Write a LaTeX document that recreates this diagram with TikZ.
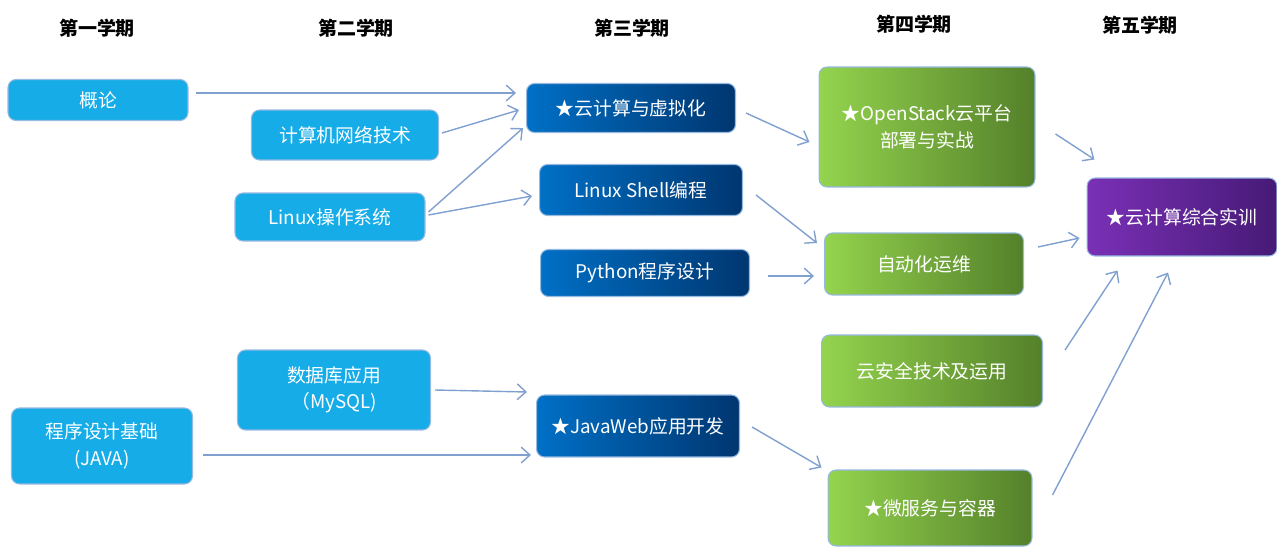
\documentclass[tikz,border=0pt]{standalone}
\usepackage{fontspec}
\setmainfont{Noto Sans CJK SC}
\usetikzlibrary{arrows.meta,calc}
\definecolor{skyblue}{RGB}{22, 172, 232}
\definecolor{navyl}{RGB}{0, 112, 198}
\definecolor{navyr}{RGB}{0, 54, 112}
\definecolor{leafl}{RGB}{148, 212, 78}
\definecolor{leafr}{RGB}{84, 128, 42}
\definecolor{plumL}{RGB}{122, 48, 182}
\definecolor{plumR}{RGB}{70, 26, 118}
\definecolor{frame}{RGB}{150, 185, 225}
\definecolor{link}{RGB}{128, 160, 208}

\tikzset{
    course/.style={
        rectangle,
        rounded corners=0.16cm,
        draw=frame,
        line width=0.6pt,
        text=white,
        inner sep=0pt,
        align=center,
        font=\fontsize{10.7pt}{15pt}\selectfont
    },
    basic/.style={course, fill=skyblue},
    core/.style={course, left color=navyl, right color=navyr},
    adv/.style={course, left color=leafl, right color=leafr},
    final/.style={course, left color=plumL, right color=plumR},
    term/.style={font=\fontsize{10.8pt}{13pt}\selectfont\bfseries},
    arr/.style={draw=link, line width=0.8pt, -{Straight Barb[length=5pt,width=9pt]}}
}

\begin{document}
\begin{tikzpicture}[x=0.02cm, y=-0.02cm]
            \useasboundingbox (0,0) rectangle (1277,547);

            \node (t1) [term] at (97,28) {第一学期};
            \node (t2) [term] at (356,28) {第二学期};
            \node (t3) [term] at (632,28) {第三学期};
            \node (t4) [term] at (914,24) {第四学期};
            \node (t5) [term] at (1140,25) {第五学期};

            \node (1) [basic, minimum width=3.6cm, minimum height=0.82cm] at (98,100) {概论};
            \node (2) [basic, minimum width=3.74cm, minimum height=1.0cm] at (345,135) {计算机网络技术};
            \node (3) [basic, minimum width=3.8cm, minimum height=0.96cm] at (330,217) {Linux操作系统};
            \node (4) [basic, minimum width=3.62cm, minimum height=1.52cm] at (102,446) {程序设计基础\\(JAVA)};
            \node (5) [basic, minimum width=3.86cm, minimum height=1.6cm] at (334,390) {数据库应用\\（MySQL)};

            \node (6) [core, minimum width=4.18cm, minimum height=0.98cm] at (631,108) {★云计算与虚拟化};
            \node (7) [core, minimum width=4.06cm, minimum height=1.02cm] at (641,190) {Linux Shell编程};
            \node (8) [core, minimum width=4.18cm, minimum height=0.94cm] at (645,273) {Python程序设计};
            \node (9) [core, minimum width=4.06cm, minimum height=1.24cm] at (638,426) {★JavaWeb应用开发};

            \node (10) [adv, minimum width=4.32cm, minimum height=2.4cm] at (927,127) {★OpenStack云平台\\部署与实战};
            \node (11) [adv, minimum width=3.98cm, minimum height=1.24cm] at (924,264) {自动化运维};
            \node (12) [adv, minimum width=4.42cm, minimum height=1.44cm] at (932,371) {云安全技术及运用};
            \node (13) [adv, minimum width=4.08cm, minimum height=1.52cm] at (930,508) {★微服务与容器};

            \node (14) [final, minimum width=3.8cm, minimum height=1.56cm] at (1182,217) {★云计算综合实训};

            \draw[arr] ($(1.east)+(7,-7)$) -- ($(6.west)+(-10,-15)$);
            \draw[arr] ($(2.east)+(3,-2)$) -- ($(6.west)+(-7,2)$);
            \draw[arr] ($(3.east)+(3,-5)$) -- ($(6.south west)+(-3,-5)$);
            \draw[arr] ($(3.east)+(3,-2)$) -- ($(7.west)+(-7,6)$);
            \draw[arr] ($(6.east)+(10,5)$) -- ($(10.west)+(-9,15)$);
            \draw[arr] ($(7.east)+(13,5)$) -- ($(11.west)+(-7,-21)$);
            \draw[arr] ($(8.east)+(18,3)$) -- ($(11.west)+(-10,12)$);
            \draw[arr] ($(5.east)+(4,0)$) -- ($(9.west)+(-9,-34)$);
            \draw[arr] ($(4.east)+(10,9)$) -- ($(9.west)+(-5,29)$);
            \draw[arr] ($(9.east)+(12,1)$) -- ($(13.north west)+(-6,-2)$);
            \draw[arr] ($(10.east)+(20,7)$) -- ($(14.north west)+(8,-18)$);
            \draw[arr] ($(11.east)+(14,-17)$) -- ($(14.west)+(-7,21)$);
            \draw[arr] ($(12.east)+(22,-21)$) -- ($(14.south west)+(31,14)$);
            \draw[arr] ($(13.east)+(20,-13)$) -- ($(14.south)+(-14,16)$);
        \end{tikzpicture}
\end{document}
